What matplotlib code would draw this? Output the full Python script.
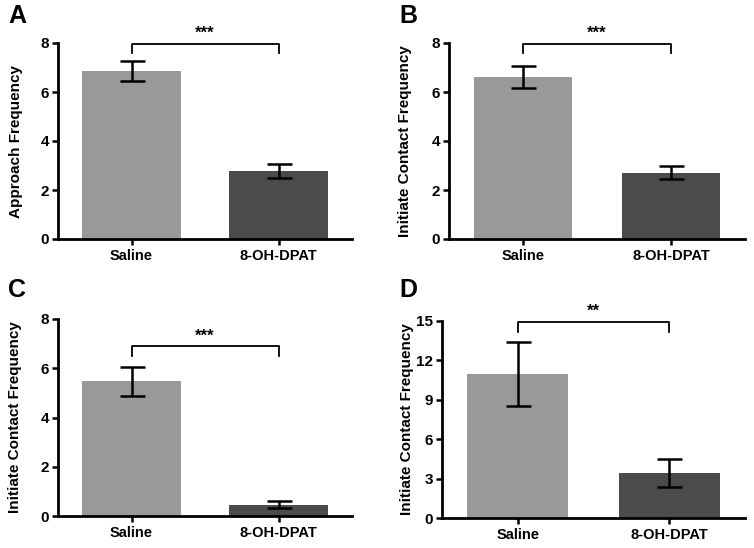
import numpy as np
import matplotlib.pyplot as plt

plt.rcParams['font.family'] = ['Liberation Sans', 'DejaVu Sans']
plt.rcParams['font.weight'] = 'bold'

# ── Data ─────────────────────────────────────────────────────────────────────
groups = ["Saline", "8-OH-DPAT"]
panel_labels = ["A", "B", "C", "D"]
ylabels = ["Approach Frequency", "Initiate Contact Frequency",
           "Initiate Contact Frequency", "Initiate Contact Frequency"]
means_a = [6.85, 2.78]
sems_a = [0.41, 0.28]
means_b = [6.61, 2.70]
sems_b = [0.45, 0.27]
means_c = [5.47, 0.46]
sems_c = [0.60, 0.14]
means_d = [10.96, 3.43]
sems_d = [2.47, 1.07]
stars = ["***", "***", "***", "**"]
bracket_y = [7.97, 7.97, 6.89, 14.92]
bracket_drop = [0.38, 0.38, 0.41, 0.73]
ylims = [8, 8, 8, 15]
yticks = [[0, 2, 4, 6, 8], [0, 2, 4, 6, 8], [0, 2, 4, 6, 8], [0, 3, 6, 9, 12, 15]]

BAR_COLORS = ["#999999", "#4b4b4b"]

W, H = 754, 548
fig = plt.figure(figsize=(W / 100, H / 100), dpi=100, facecolor="white")

# axes rectangles in pixels: left, right, bottom(y), top(y)
rects_px = [(58, 352, 239, 43), (449, 745, 239, 43),
            (58, 352, 516, 319), (442, 745, 518, 321)]
ylabel_x = [16, 405, 15, 407]
letter_pos = [(8, 16), (399, 16), (8, 290), (399, 290)]

means = [means_a, means_b, means_c, means_d]
sems = [sems_a, sems_b, sems_c, sems_d]

for i, (l, r, b, t) in enumerate(rects_px):
    ax = fig.add_axes([l / W, 1 - b / H, (r - l) / W, (b - t) / H])
    x = np.arange(len(groups))
    ax.bar(x, means[i], width=0.667, color=BAR_COLORS, zorder=1)
    ax.errorbar(x, means[i], yerr=sems[i], fmt="none", ecolor="black",
                elinewidth=1.8, capsize=9, capthick=1.8, zorder=2)
    ax.set_xlim(-0.5, 1.5)
    ax.set_ylim(0, ylims[i])
    ax.set_yticks(yticks[i])
    ax.set_xticks(x)
    ax.set_xticklabels(groups, fontsize=10.5, fontweight="bold")
    ax.tick_params(axis="y", labelsize=11, width=1.8, length=4.5, pad=2)
    ax.tick_params(axis="x", width=1.8, length=4.5, pad=3)
    for lab in ax.get_yticklabels():
        lab.set_fontweight("bold")
    for side in ["top", "right"]:
        ax.spines[side].set_visible(False)
    for side in ["left", "bottom"]:
        ax.spines[side].set_linewidth(2)

    # y label placed at a fixed pixel position like the original
    fig.text(ylabel_x[i] / W, 1 - (b + t) / 2 / H, ylabels[i], rotation=90,
             ha="center", va="center", fontsize=11, fontweight="bold")

    # significance bracket
    by = bracket_y[i]
    dd = bracket_drop[i]
    ax.plot([0, 0, 1, 1], [by - dd, by, by, by - dd], color="black",
            lw=1.3, clip_on=False)
    ax.text(0.5, by + 0.12 * ylims[i] / 8, stars[i], ha="center", va="bottom",
            fontsize=12, fontweight="bold")

    # panel letter
    lx, ly = letter_pos[i]
    fig.text(lx / W, 1 - ly / H, panel_labels[i], fontsize=18,
             fontweight="bold", ha="left", va="center")

fig.savefig("out.png", dpi=100, facecolor="white")
